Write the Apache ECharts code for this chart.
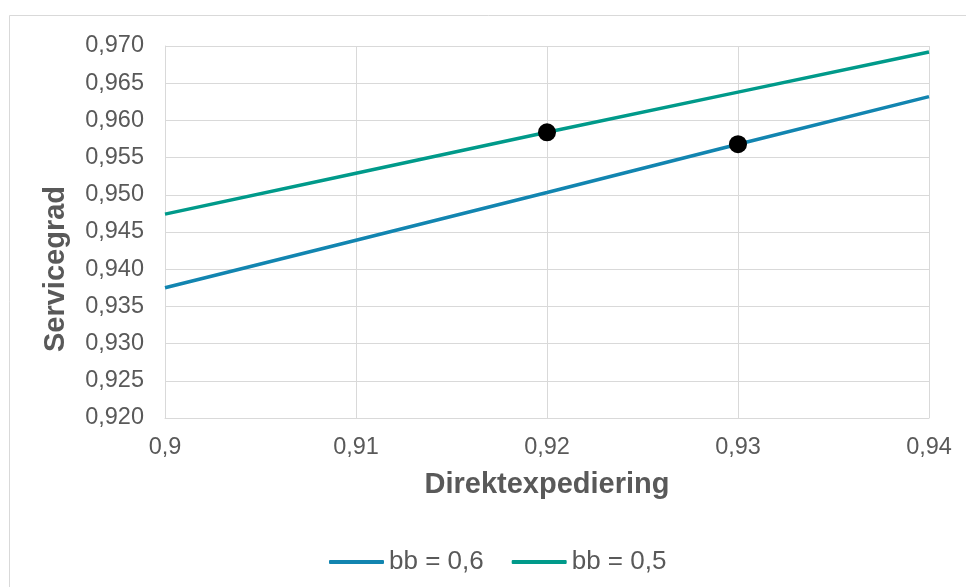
<!DOCTYPE html>
<html>
<head>
<meta charset="utf-8">
<script src="https://cdn.jsdelivr.net/npm/echarts@6/dist/echarts.min.js"></script>
<style>
html,body{margin:0;padding:0;background:#fff;}
#chart{width:966px;height:587px;}
</style>
</head>
<body>
<div id="chart"></div>
<script>
const xValues = [0.90, 0.91, 0.92, 0.93, 0.94];
const bb06 = [0.9375, 0.9439, 0.9503, 0.9568, 0.9632];
const bb05 = [0.9474, 0.9529, 0.9584, 0.9638, 0.9692];
const markedPoints = [[0.92, 0.9584], [0.93, 0.9568]];
const xTickLabels = ['0,9', '0,91', '0,92', '0,93', '0,94'];
const yTickLabels = ['0,920', '0,925', '0,930', '0,935', '0,940', '0,945', '0,950', '0,955', '0,960', '0,965', '0,970'];
const seriesNames = ['bb = 0,6', 'bb = 0,5'];
const xTitle = 'Direktexpediering';
const yTitle = 'Servicegrad';

const font = '"Liberation Sans", Arial, sans-serif';
const textColor = '#595959';
const gridColor = '#d9d9d9';

const chart = echarts.init(document.getElementById('chart'), null, {renderer: 'canvas'});
chart.setOption({
  animation: false,
  backgroundColor: '#fff',
  textStyle: {fontFamily: font},
  graphic: [{
    type: 'rect', shape: {x: 9.5, y: 15.5, width: 1000, height: 1000},
    style: {fill: 'none', stroke: gridColor, lineWidth: 1}, silent: true, z: -10
  }, {
    type: 'text', x: 56, y: 269, rotation: Math.PI / 2, silent: true,
    style: {text: yTitle, fontFamily: font, fontSize: 29, fontWeight: 'bold', fill: textColor,
            align: 'center', verticalAlign: 'middle'}
  }],
  grid: {left: 165, top: 46, right: 37, bottom: 169, containLabel: false},
  legend: {
    data: seriesNames,
    left: 324, top: 544,
    icon: 'roundRect', itemWidth: 55, itemHeight: 4, itemGap: 28,
    textStyle: {fontFamily: font, fontSize: 26, color: textColor}
  },
  xAxis: {
    type: 'value', min: 0.9, max: 0.94, interval: 0.01,
    name: xTitle, nameLocation: 'middle', nameGap: 52,
    nameTextStyle: {fontFamily: font, fontSize: 29, fontWeight: 'bold', color: textColor},
    axisLine: {show: true, lineStyle: {color: gridColor, width: 1}},
    axisTick: {show: false},
    axisLabel: {
      fontFamily: font, fontSize: 23.5, color: textColor, margin: 18,
      formatter: function (v, i) { return xTickLabels[Math.round((v - 0.9) / 0.01)]; }
    },
    splitLine: {show: true, lineStyle: {color: gridColor, width: 1}}
  },
  yAxis: {
    type: 'value', min: 0.92, max: 0.97, interval: 0.005,
    axisLine: {show: true, lineStyle: {color: gridColor, width: 1}},
    axisTick: {show: false},
    axisLabel: {
      fontFamily: font, fontSize: 23.5, color: textColor, margin: 21,
      formatter: function (v, i) { return yTickLabels[Math.round((v - 0.92) / 0.005)]; }
    },
    splitLine: {show: true, lineStyle: {color: gridColor, width: 1}}
  },
  series: [
    {
      name: seriesNames[0], type: 'line', symbol: 'none',
      data: xValues.map((x, i) => [x, bb06[i]]),
      lineStyle: {color: '#1285B0', width: 3.5}, itemStyle: {color: '#1285B0'}, z: 2
    },
    {
      name: seriesNames[1], type: 'line', symbol: 'none',
      data: xValues.map((x, i) => [x, bb05[i]]),
      lineStyle: {color: '#009A8A', width: 3.5}, itemStyle: {color: '#009A8A'}, z: 2
    },
    {
      name: 'punkter', type: 'scatter', symbol: 'circle', symbolSize: 18,
      data: markedPoints, itemStyle: {color: '#000', opacity: 1}, z: 5
    }
  ]
});
</script>
</body>
</html>
